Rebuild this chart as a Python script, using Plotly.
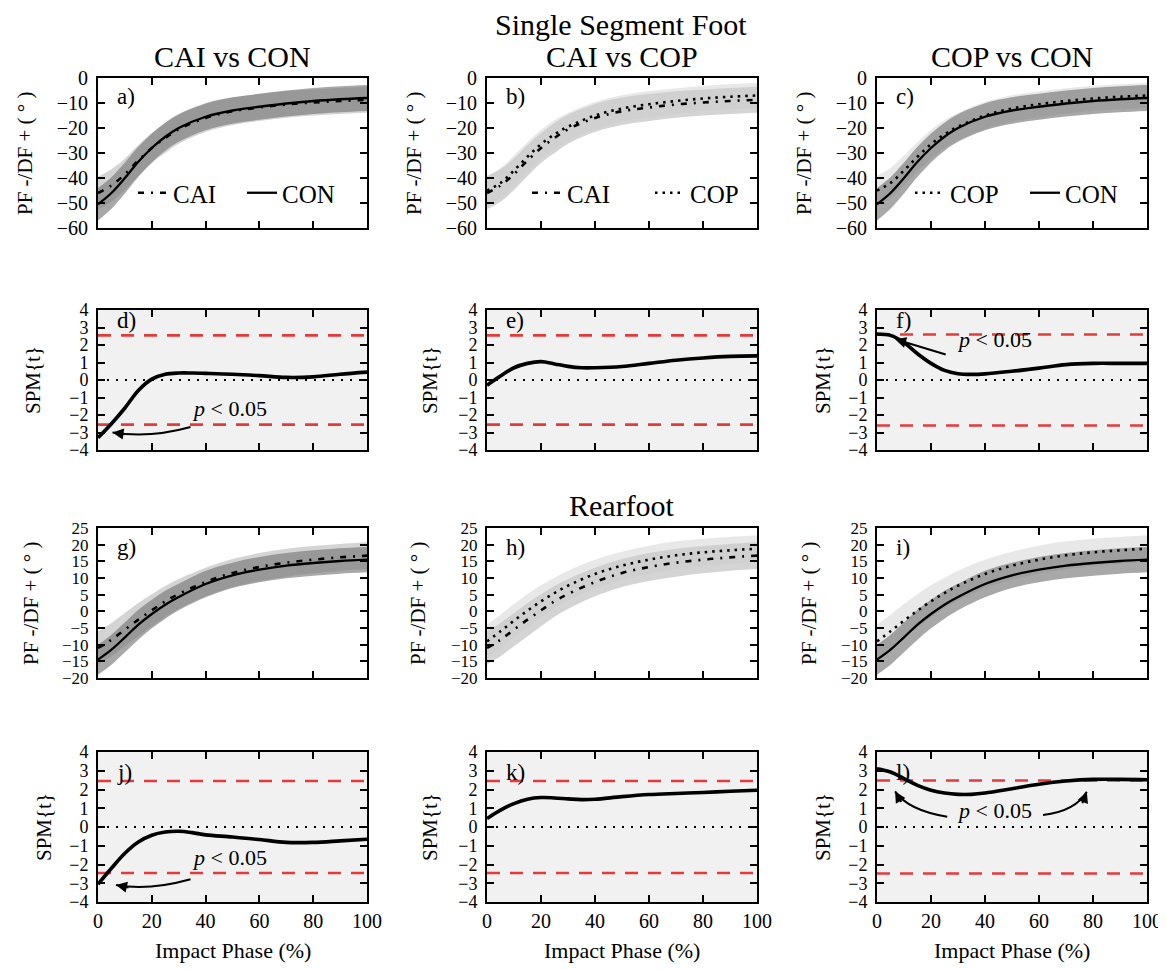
import plotly.graph_objects as go
from plotly.subplots import make_subplots

# ---------------- data ----------------
phase = [0, 5, 10, 15, 20, 25, 30, 40, 50, 60, 70, 80, 90, 100]

# Single segment foot (deg)
ss_cai = [-46, -43, -38.5, -33, -28, -24, -20.5, -16, -13.3, -11.8, -10.6, -9.8, -9.2, -8.7]
ss_cop = [-45, -42, -37, -31.5, -26.5, -22.5, -19.5, -15, -12.2, -10.5, -9.2, -8.2, -7.5, -7]
ss_con = [-50.5, -46, -40, -33.5, -28, -23.5, -20, -15.5, -13, -11.5, -10.2, -9.2, -8.5, -8]
ss_cai_sd = [6.5, 6.5, 6.3, 6.2, 6, 6, 5.8, 5.6, 5.5, 5.4, 5.3, 5.2, 5.2, 5.2]
ss_cop_sd = [6, 6, 6, 5.8, 5.8, 5.6, 5.5, 5.4, 5.3, 5.2, 5.1, 5, 5, 5]
ss_con_sd = [6.5, 6.3, 6.2, 6, 5.8, 5.6, 5.5, 5.4, 5.3, 5.2, 5.2, 5.2, 5.2, 5.2]

# Rearfoot (deg)
rf_cai = [-11, -8.5, -5.5, -2.5, 0.3, 3, 5.2, 8.8, 11.5, 13.3, 14.6, 15.5, 16.2, 16.7]
rf_cop = [-9, -6, -2.8, 0.2, 3, 5.5, 7.7, 11.2, 13.7, 15.5, 16.8, 17.7, 18.3, 18.8]
rf_con = [-14.5, -11.5, -7.8, -4, -0.8, 2, 4.3, 8.2, 10.8, 12.5, 13.7, 14.5, 15.1, 15.5]
rf_cai_sd = [5, 5, 5, 5, 4.8, 4.6, 4.5, 4.3, 4.2, 4.2, 4.2, 4.1, 4, 4]
rf_cop_sd = [5, 5, 5, 5, 4.8, 4.6, 4.5, 4.3, 4.2, 4.2, 4.2, 4.1, 4, 4]
rf_con_sd = [4.5, 4.5, 4.5, 4.5, 4.3, 4.2, 4, 4, 3.8, 3.8, 3.8, 3.8, 3.8, 3.8]

# SPM{t} curves
spm_phase = [0, 5, 10, 15, 20, 25, 30, 35, 40, 50, 60, 70, 80, 90, 100]
spm_d = [-3.3, -2.5, -1.6, -0.6, 0.05, 0.33, 0.4, 0.4, 0.38, 0.33, 0.25, 0.15, 0.18, 0.33, 0.45]
spm_e = [-0.3, 0.23, 0.7, 0.95, 1.05, 0.92, 0.78, 0.7, 0.7, 0.77, 0.95, 1.13, 1.26, 1.35, 1.38]
spm_f = [2.63, 2.55, 2.15, 1.5, 0.95, 0.55, 0.36, 0.32, 0.35, 0.5, 0.68, 0.88, 0.95, 0.95, 0.95]
spm_j = [-3.05, -2.2, -1.4, -0.8, -0.44, -0.27, -0.23, -0.3, -0.42, -0.53, -0.67, -0.82, -0.82, -0.74, -0.65]
spm_k = [0.45, 0.9, 1.25, 1.48, 1.57, 1.55, 1.5, 1.46, 1.48, 1.62, 1.73, 1.79, 1.84, 1.91, 1.96]
spm_l = [3.1, 2.93, 2.58, 2.22, 1.96, 1.81, 1.74, 1.74, 1.81, 2.04, 2.28, 2.45, 2.54, 2.54, 2.52]
thresholds = {"d": 2.55, "e": 2.55, "f": 2.6, "j": 2.45, "k": 2.45, "l": 2.48}

x_ticks = [0, 20, 40, 60, 80, 100]
panel_letters = ["a)", "b)", "c)", "d)", "e)", "f)", "g)", "h)", "i)", "j)", "k)", "l)"]
col_titles = ["CAI vs CON", "CAI vs COP", "COP vs CON"]
section_titles = ["Single Segment Foot", "Rearfoot"]
angle_label = "PF -/DF + ( ° )"
spm_label = "SPM{t}"
x_label = "Impact Phase (%)"

# ---------------- style ----------------
SERIF = "Liberation Serif, Times New Roman, serif"
OFF = 8                      # page body margin
W, H = 1156, 960             # figure size
col_px = [(98, 367), (487, 757), (877, 1147)]     # page pixels
row_px = [(78, 228), (310, 450), (528, 678), (752, 902)]


def fx(p):
    return (p - OFF) / W


def fy(p):
    return 1 - (p - OFF) / H


band_col = {"CAI": "rgba(160,160,160,0.45)", "COP": "rgba(205,205,205,0.45)", "CON": "rgba(115,115,115,0.62)"}
line_sty = {
    "CAI": dict(color="black", width=2.6, dash="6px,7px,2px,7px"),
    "COP": dict(color="black", width=2.6, dash="2.5px,5px"),
    "CON": dict(color="black", width=2.3),
}

fig = make_subplots(rows=4, cols=3)


def idx(r, c):
    return (r - 1) * 3 + c


def add_band(mean, sd, grp, r, c):
    lo = [m - s for m, s in zip(mean, sd)]
    hi = [m + s for m, s in zip(mean, sd)]
    fig.add_trace(go.Scatter(x=phase, y=lo, mode="lines", line=dict(width=0, shape="spline"),
                             showlegend=False, hoverinfo="skip"), row=r, col=c)
    fig.add_trace(go.Scatter(x=phase, y=hi, mode="lines", line=dict(width=0, shape="spline"),
                             fill="tonexty", fillcolor=band_col[grp], showlegend=False,
                             hoverinfo="skip"), row=r, col=c)


def add_mean(mean, grp, r, c, legend=None):
    sty = dict(line_sty[grp])
    sty["shape"] = "spline"
    fig.add_trace(go.Scatter(x=phase, y=mean, mode="lines", line=sty, name=grp,
                             showlegend=legend is not None, legend=legend or "legend",
                             hoverinfo="skip"), row=r, col=c)


ss = {"CAI": (ss_cai, ss_cai_sd), "COP": (ss_cop, ss_cop_sd), "CON": (ss_con, ss_con_sd)}
rf = {"CAI": (rf_cai, rf_cai_sd), "COP": (rf_cop, rf_cop_sd), "CON": (rf_con, rf_con_sd)}
pairs = [("CAI", "CON"), ("CAI", "COP"), ("COP", "CON")]
legends = ["legend", "legend2", "legend3"]

for c, (g1, g2) in enumerate(pairs, start=1):
    for r, data in ((1, ss), (3, rf)):
        order = sorted([g1, g2], key=lambda g: g == "CON")
        for g in order:
            add_band(data[g][0], data[g][1], g, r, c)
        for g in (g1, g2):
            add_mean(data[g][0], g, r, c, legend=legends[c - 1] if r == 1 else None)

spm_sets = [(2, 1, spm_d, "d"), (2, 2, spm_e, "e"), (2, 3, spm_f, "f"),
            (4, 1, spm_j, "j"), (4, 2, spm_k, "k"), (4, 3, spm_l, "l")]
for r, c, curve, key in spm_sets:
    n = idx(r, c)
    sfx = "" if n == 1 else str(n)
    fig.add_shape(type="rect", xref=f"x{sfx} domain", yref=f"y{sfx} domain", x0=0, x1=1, y0=0, y1=1,
                  fillcolor="#f1f1f1", line=dict(width=0), layer="below")
    t = thresholds[key]
    for yv in (t, -t):
        fig.add_trace(go.Scatter(x=[0, 100], y=[yv, yv], mode="lines",
                                 line=dict(color="#e23b3b", width=2.6, dash="13px,10px"),
                                 showlegend=False, hoverinfo="skip"), row=r, col=c)
    fig.add_trace(go.Scatter(x=[0, 100], y=[0, 0], mode="lines",
                             line=dict(color="black", width=1.8, dash="2px,7px"),
                             showlegend=False, hoverinfo="skip"), row=r, col=c)
    fig.add_trace(go.Scatter(x=spm_phase, y=curve, mode="lines",
                             line=dict(color="black", width=3.6, shape="spline"),
                             showlegend=False, hoverinfo="skip"), row=r, col=c)

# ---------------- axes ----------------
yranges = {1: ([-60, 0], 10, 20), 2: ([-4, 4], 1, 18), 3: ([-20, 25], 5, 17), 4: ([-4, 4], 1, 18)}
for r in range(1, 5):
    for c in range(1, 4):
        n = idx(r, c)
        sfx = "" if n == 1 else str(n)
        x0, x1 = col_px[c - 1]
        y0, y1 = row_px[r - 1]
        rng, dt, fs = yranges[r]
        common = dict(showline=True, linecolor="black", linewidth=2, mirror="ticks",
                      ticks="inside", ticklen=7, tickwidth=1.6, tickcolor="black",
                      showgrid=False, zeroline=False, automargin=False)
        fig.layout[f"xaxis{sfx}"].update(domain=[fx(x0), fx(x1)], range=[0, 100],
                                          tickvals=x_ticks, showticklabels=(r == 4),
                                          tickfont=dict(family=SERIF, size=20, color="black"),
                                          **common)
        fig.layout[f"yaxis{sfx}"].update(domain=[fy(y1), fy(y0)], range=rng,
                                          dtick=dt, tick0=0, ticklabelstandoff=4,
                                          tickfont=dict(family=SERIF, size=fs, color="black"),
                                          **common)

# ---------------- annotations ----------------
ann = []
label_off = {1: 19, 2: 10, 3: 19, 4: 20}
for r in range(1, 5):
    for c in range(1, 4):
        n = idx(r, c)
        sfx = "" if n == 1 else str(n)
        ann.append(dict(text=panel_letters[n - 1], xref=f"x{sfx} domain", yref=f"y{sfx} domain",
                        x=0, y=1, xshift=17, yshift=-label_off[r], xanchor="left", yanchor="middle",
                        showarrow=False, font=dict(family=SERIF, size=23, color="black")))

ylab_shift = {(1, 1): -73, (1, 2): -73, (1, 3): -73,
              (2, 1): -65, (2, 2): -57, (2, 3): -54,
              (3, 1): -67, (3, 2): -69, (3, 3): -68,
              (4, 1): -54, (4, 2): -57, (4, 3): -54}
for (r, c), sh in ylab_shift.items():
    n = idx(r, c)
    sfx = "" if n == 1 else str(n)
    ann.append(dict(text=angle_label if r in (1, 3) else spm_label,
                    xref=f"x{sfx} domain", yref=f"y{sfx} domain", x=0, y=0.5, xshift=sh,
                    xanchor="center", yanchor="middle", textangle=-90, showarrow=False,
                    font=dict(family=SERIF, size=21, color="black")))

for c in range(1, 4):
    x0, x1 = col_px[c - 1]
    ann.append(dict(text=col_titles[c - 1], xref="paper", yref="paper", x=fx((x0 + x1) / 2),
                    y=fy(57), xanchor="center", yanchor="middle", showarrow=False,
                    font=dict(family=SERIF, size=30, color="black")))
    ann.append(dict(text=x_label, xref="paper", yref="paper", x=fx((x0 + x1) / 2),
                    y=fy(950), xanchor="center", yanchor="middle", showarrow=False,
                    font=dict(family=SERIF, size=22, color="black")))
ann.append(dict(text=section_titles[0], xref="paper", yref="paper", x=fx(621), y=fy(24),
                xanchor="center", yanchor="middle", showarrow=False,
                font=dict(family=SERIF, size=30, color="black")))
ann.append(dict(text=section_titles[1], xref="paper", yref="paper", x=fx(622), y=fy(505),
                xanchor="center", yanchor="middle", showarrow=False,
                font=dict(family=SERIF, size=30, color="black")))

ptxt = "<i>p</i> &lt; 0.05"
pfont = dict(family=SERIF, size=22, color="black")
for n, px_, py_ in ((4, 49, -1.6), (6, 43.7, 2.3), (10, 49, -1.65), (12, 43.7, 0.9)):
    ann.append(dict(text=ptxt, xref=f"x{n}", yref=f"y{n}", x=px_, y=py_, showarrow=False,
                    xanchor="center", yanchor="middle", font=pfont))

# curved arrow bodies
curves = [(4, (34.4, -2.69), (19.3, -3.34), (5.4, -3.0)),
          (10, (34.4, -2.79), (18.6, -3.42), (6.7, -3.09)),
          (12, (26, 0.55), (11.6, 0.88), (6.7, 1.9)),
          (12, (61.5, 0.64), (73.4, 0.84), (77.7, 1.88))]
for n, p0, cp, p2 in curves:
    fig.add_shape(type="path", xref=f"x{n}", yref=f"y{n}",
                  path=f"M {p0[0]},{p0[1]} Q {cp[0]},{cp[1]} {p2[0]},{p2[1]}",
                  line=dict(color="black", width=2))
heads = [(4, 5.4, -3.0, 14, 2), (10, 6.7, -3.09, 14, 3), (12, 6.7, 1.9, 7, 12), (12, 77.7, 1.88, -5, 13)]
for n, hx, hy, ax, ay in heads:
    ann.append(dict(text="", xref=f"x{n}", yref=f"y{n}", x=hx, y=hy, ax=ax, ay=ay,
                    showarrow=True, arrowhead=2, arrowsize=1.1, arrowwidth=2, arrowcolor="black"))
ann.append(dict(text="", xref="x6", yref="y6", x=6.7, y=2.33, ax=26, ay=1.43, axref="x6", ayref="y6",
                showarrow=True, arrowhead=2, arrowsize=1.1, arrowwidth=2, arrowcolor="black"))

leg_common = dict(orientation="h", xanchor="left", yanchor="middle", bgcolor="rgba(0,0,0,0)",
                  font=dict(family=SERIF, size=25, color="black"), itemwidth=30,
                  traceorder="normal", entrywidthmode="pixels")
fig.update_layout(
    width=W, height=H, autosize=False, margin=dict(l=0, r=0, t=0, b=0),
    paper_bgcolor="white", plot_bgcolor="white",
    annotations=ann,
    legend=dict(x=fx(133), y=fy(193), entrywidth=64, **leg_common),
    legend2=dict(x=fx(527), y=fy(193), entrywidth=78, **leg_common),
    legend3=dict(x=fx(910), y=fy(193), entrywidth=70, **leg_common),
)

fig.write_html("out.html")
